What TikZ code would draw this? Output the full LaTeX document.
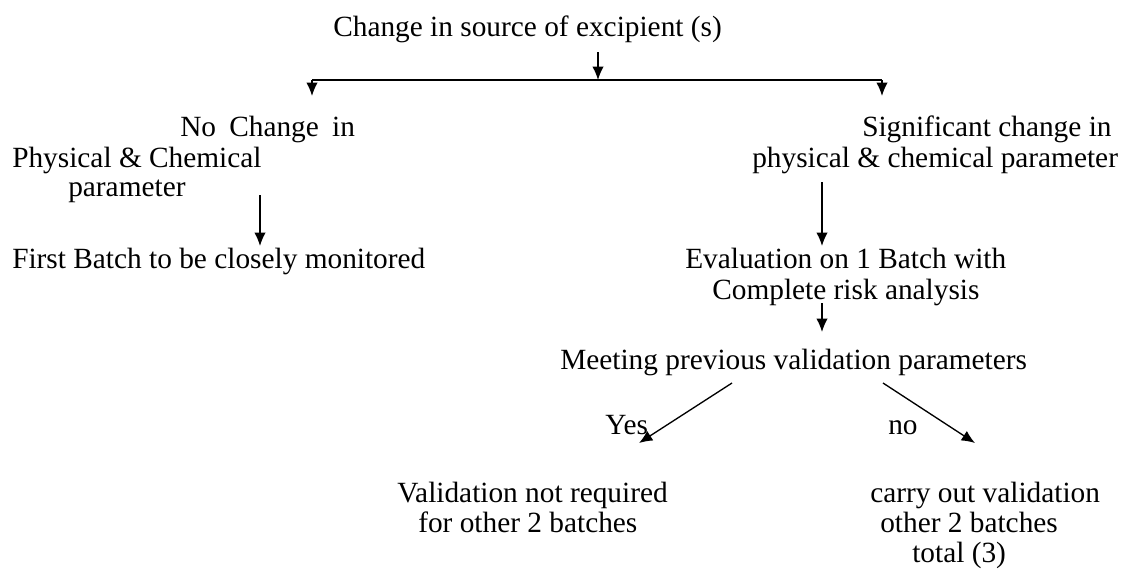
\documentclass[tikz,border=0pt]{standalone}
\usepackage{fontspec}
\setmainfont{Liberation Serif}
\usetikzlibrary{arrows.meta}

\begin{document}
\begin{tikzpicture}[x=0.75pt,y=-0.75pt]
\tikzstyle{txt}=[inner sep=0pt, anchor=base west, font=\fontsize{22}{26}\selectfont]
\tikzstyle{connect}=[-{Latex[length=10pt,width=8.5pt]}, line width=1pt]

\useasboundingbox (0,0) rectangle (1126,572);

% source of the change
\node[txt] at (333,36) (source) {Change in source of excipient (s)};

% left branch
\node[txt] at (180,136) (nochange1) {No\hspace{0.45em}Change\hspace{0.45em}in};
\node[txt] at (12,167) (nochange2) {Physical \& Chemical};
\node[txt] at (68,196) (nochange3) {parameter};
\node[txt] at (12,268) (monitor) {First Batch to be closely monitored};

% right branch
\node[txt] at (862,136) (signif1) {Significant change in};
\node[txt] at (752,167) (signif2) {physical \& chemical parameter};
\node[txt] at (685,268) (eval1) {Evaluation on 1 Batch with};
\node[txt] at (712,299) (eval2) {Complete risk analysis};
\node[txt] at (560,369) (meeting) {Meeting previous validation parameters};

% answers
\node[txt] at (605,434) (yes) {Yes};
\node[txt] at (888,434) (no) {no};
\node[txt] at (397,502) (notreq1) {Validation not required};
\node[txt] at (418,532) (notreq2) {for other 2 batches};
\node[txt] at (870,502) (carry1) {carry out validation};
\node[txt] at (880,532) (carry2) {other 2 batches};
\node[txt] at (912,562) (carry3) {total (3)};

% junction points
\coordinate (srcout) at (598,52);
\coordinate (split) at (598,80);
\coordinate (splitL) at (312,80);
\coordinate (splitR) at (882,80);
\coordinate (leftend) at (312,96);
\coordinate (rightend) at (882,96);
\coordinate (ncout) at (260,195);
\coordinate (ncin) at (260,246);
\coordinate (sgout) at (822,182);
\coordinate (sgin) at (822,246);
\coordinate (evout) at (822,303);
\coordinate (evin) at (822,332);
\coordinate (mtL) at (732,383);
\coordinate (yesin) at (639,443);
\coordinate (mtR) at (883,383);
\coordinate (noin) at (975,443);

\path (srcout) edge [connect] (split);
\draw[line width=1pt] (splitL) -- (splitR);
\path (splitL) edge [connect] (leftend);
\path (splitR) edge [connect] (rightend);
\path (ncout) edge [connect] (ncin);
\path (sgout) edge [connect] (sgin);
\path (evout) edge [connect] (evin);
\path (mtL) edge [connect] (yesin);
\path (mtR) edge [connect] (noin);
\end{tikzpicture}
\end{document}
